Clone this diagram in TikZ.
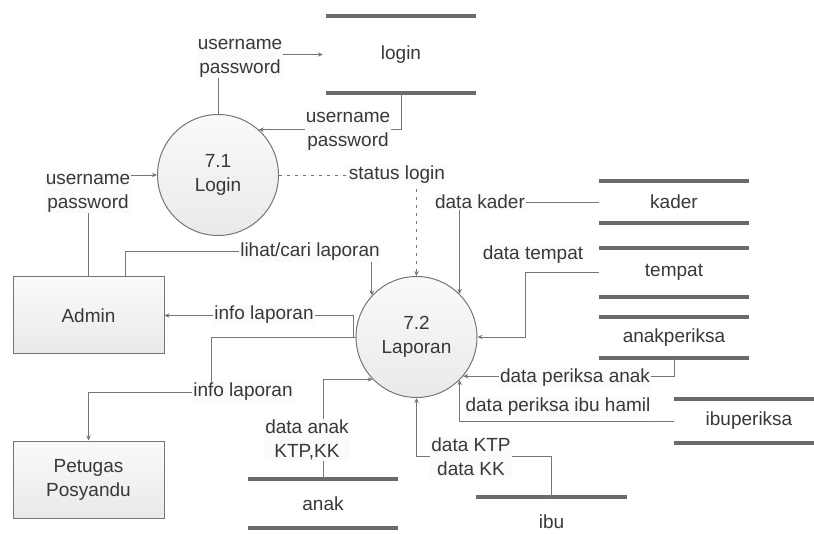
\documentclass[tikz,border=0pt]{standalone}
\usepackage{fontspec}
\setmainfont{Liberation Sans}
\usetikzlibrary{arrows.meta,calc}
\definecolor{ln}{HTML}{757575}
\definecolor{tx}{HTML}{383838}
\definecolor{st}{HTML}{6A6A6A}
\begin{document}
\begin{tikzpicture}[x=1pt,y=-1pt,
  every node/.style={font=\fontsize{19}{24}\selectfont, text=tx},
  proc/.style={circle, draw=ln, line width=1pt, minimum size=121pt, inner sep=0pt, align=center, top color=gray!4, bottom color=gray!17},
  ent/.style={rectangle, draw=ln, line width=1pt, minimum width=151pt, minimum height=77pt, align=center, top color=gray!4, bottom color=gray!17},
  store/.style={rectangle, minimum width=150pt, inner sep=0pt},
  sline/.style={draw=st, line width=4pt},
  flow/.style={draw=ln, line width=0.9pt, -{Stealth[length=5pt,width=4.5pt]}},
  lab/.style={fill=gray!3, inner sep=1pt, align=center}
]
\useasboundingbox (0,0) rectangle (814,534);
\clip (0,0) rectangle (814,534);

% processes
\node[proc] (p71) at (218,175) {7.1\\Login};
\node[proc] (p72) at (416.5,337) {7.2\\Laporan};

% entities
\node[ent] (admin) at (88.5,315.5) {Admin};
\node[ent] (petugas) at (88.5,479.5) {Petugas\\Posyandu};

% data stores
\node[store, minimum height=77pt] (login) at (401,54.5) {login};
\node[store, minimum height=42pt] (kader) at (674,202) {kader};
\node[store, minimum height=49pt] (tempat) at (674,272.5) {tempat};
\node[store, minimum height=41pt] (anakperiksa) at (674,337.5) {anakperiksa};
\node[store, minimum height=44pt] (ibuperiksa) at (749,421) {ibuperiksa};
\node[store, minimum height=49pt] (anak) at (323,503.5) {anak};
\node[store, minimum height=49pt] (ibu) at (551.5,522) {ibu};

\foreach \s in {login,kader,tempat,anakperiksa,ibuperiksa,anak}{
  \draw[sline] (\s.north west) -- (\s.north east);
  \draw[sline] (\s.south west) -- (\s.south east);
}
\draw[sline] (ibu.north west) -- (ibu.north east);

% flows
\draw[flow] (p71.north) |- ($(login.west)+(-3,0)$);
\draw[flow] (login.south) |- (p71.48);
\draw[flow, dash pattern=on 3pt off 5pt] (p71.east) -| (p72.north);
\draw[flow] (admin.north) |- (p71.west);
\draw[flow] ([xshift=36.5pt]admin.north) -- ++(0,-25) -| (p72.137);
\draw[flow] (p72.west) -- ++(-2.5,0) |- (admin.east);
\draw[flow] (p72.west) -- (211,337) -- (211,392) -| (petugas.north);
\draw[flow] (kader.west) -| (p72.45);
\draw[flow] (tempat.west) -- (525,272.5) |- (p72.east);
\draw[flow] (anakperiksa.south) |- (p72.-40);
\draw[flow] (ibuperiksa.west) -| (p72.-45);
\draw[flow] (ibu.north) -- (ibu.north |- 0,456) -| (p72.south);
\draw[flow] (anak.north) |- (p72.224);

% labels
\node[lab] (l1) at (240,58) {username\\password};
\node[lab] (l2) at (348,131) {username\\password};
\node[lab] (l3) at (397,175) {status login};
\node[lab] (l4) at (88,193) {username\\password};
\node[lab] (l5) at (310,252) {lihat/cari laporan};
\node[lab] (l6) at (264,315) {info laporan};
\node[lab] (l7) at (243,392) {info laporan};
\node[lab] (l8) at (480,202) {data kader};
\node[lab] (l9) at (533,255) {data tempat};
\node[lab] (l10) at (575,378) {data periksa anak};
\node[lab] (l11) at (558,407) {data periksa ibu hamil};
\node[lab] (l12) at (471,457) {data KTP\\data KK};
\node[lab] (l13) at (307,440) {data anak\\KTP,KK};
\end{tikzpicture}
\end{document}
